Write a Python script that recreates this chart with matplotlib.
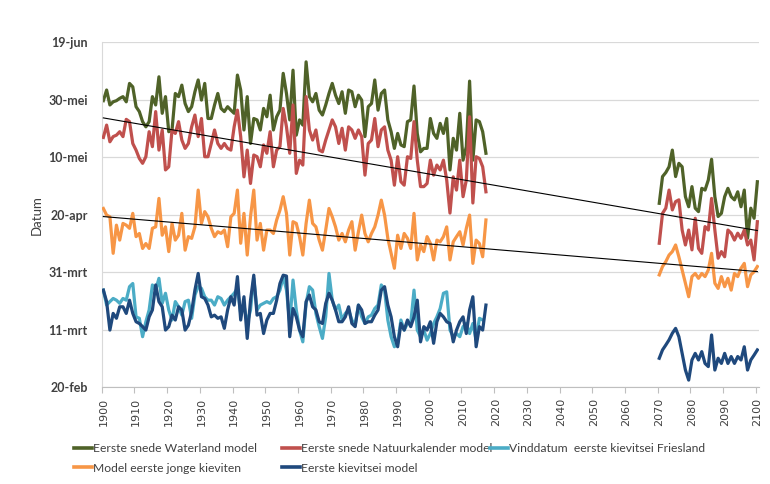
import numpy as np
import matplotlib
matplotlib.use("Agg")
import matplotlib.pyplot as plt
from matplotlib.lines import Line2D

plt.rcParams['font.family'] = ['Lato', 'DejaVu Sans']

# ---------------- data (day of year, leap-year calendar: 20-feb = 51) ----------------
hist_years = list(range(1900, 2018))
future_years = list(range(2070, 2101))

waterland_hist = [
    150.6, 154.3, 149.1, 150.2, 150.6, 151.4, 152.0, 150.2, 156.6, 155.4,
    148.5, 146.8, 143.3, 141.5, 143.3, 152.0, 149.1, 158.9, 146.2, 152.0,
    139.8, 140.4, 153.1, 152.0, 156.0, 149.6, 146.8, 148.5, 153.7, 157.8,
    150.8, 156.6, 144.4, 144.4, 149.1, 153.1, 147.9, 146.8, 148.5, 147.3,
    146.2, 159.5, 154.3, 140.4, 152.0, 135.7, 144.4, 143.9, 140.4, 147.9,
    145.0, 152.5, 140.4, 145.0, 147.3, 160.1, 153.1, 143.9, 161.2, 138.6,
    143.9, 142.1, 164.1, 152.0, 150.2, 153.1, 147.3, 145.6, 149.1, 153.1,
    156.6, 152.5, 149.6, 153.7, 146.2, 154.3, 153.7, 148.5, 152.5, 150.8,
    138.1, 148.5, 149.6, 157.8, 147.3, 153.1, 154.3, 143.9, 139.8, 134.0,
    139.2, 135.2, 134.6, 143.3, 143.9, 155.7, 139.2, 132.8, 134.0, 134.0,
    144.4, 139.2, 137.5, 142.7, 139.2, 144.4, 126.5, 137.5, 133.4, 146.2,
    129.9, 134.6, 157.4, 129.9, 143.9, 143.3, 139.8, 132.3]
waterland_future = [
    114.9, 124.2, 125.6, 127.6, 133.4, 124.2, 128.8, 127.6, 117.2, 113.7,
    120.7, 113.2, 112.0, 120.1, 119.5, 123.0, 130.2, 117.2, 110.3, 111.4,
    117.2, 120.1, 117.2, 116.1, 118.9, 113.7, 119.5, 102.7, 113.2, 109.7, 122.4]

natuur_hist = [
    137.8, 142.1, 136.3, 138.1, 138.6, 139.8, 138.1, 144.1, 143.3, 135.7,
    133.4, 130.5, 128.8, 131.1, 139.8, 134.6, 146.8, 133.4, 140.4, 126.5,
    127.6, 140.4, 139.2, 143.3, 136.9, 134.0, 135.7, 141.5, 145.6, 138.1,
    144.4, 131.1, 131.1, 135.7, 140.4, 135.7, 134.0, 135.7, 134.0, 133.4,
    141.5, 147.3, 138.1, 124.1, 133.4, 121.8, 131.7, 131.1, 127.6, 135.2,
    132.3, 139.8, 127.6, 133.4, 134.6, 147.9, 141.5, 132.3, 149.1, 125.3,
    129.9, 128.2, 152.0, 140.4, 136.9, 140.4, 133.4, 132.8, 136.9, 140.4,
    143.9, 141.5, 135.7, 141.0, 133.4, 141.5, 140.4, 137.5, 140.4, 138.1,
    124.7, 135.7, 136.9, 144.4, 134.6, 140.4, 141.5, 133.4, 129.9, 121.2,
    131.1, 122.4, 121.2, 131.1, 130.5, 143.3, 129.9, 120.7, 120.7, 121.8,
    129.9, 124.7, 128.2, 126.5, 129.9, 123.0, 111.5, 124.1, 119.5, 129.9,
    117.2, 123.0, 145.0, 115.0, 131.1, 130.5, 127.6, 118.9]
natuur_future = [
    101.0, 111.4, 113.2, 119.5, 112.6, 115.5, 116.1, 105.6, 100.4, 105.6,
    98.7, 109.7, 99.2, 97.5, 106.8, 105.6, 116.6, 105.6, 95.8, 98.1,
    96.3, 105.6, 104.5, 102.1, 104.5, 102.7, 105.6, 100.4, 102.1, 95.2, 108.5]

friesland_hist = [
    84.7, 79.5, 80.7, 81.8, 81.2, 80.1, 81.8, 81.2, 85.9, 87.0,
    75.4, 74.9, 68.5, 73.7, 77.8, 86.5, 84.7, 88.8, 80.1, 83.6,
    77.8, 74.3, 80.7, 78.9, 76.0, 80.7, 81.2, 74.9, 83.0, 85.9,
    85.3, 82.4, 81.2, 81.2, 79.5, 82.4, 81.8, 79.5, 81.2, 82.4,
    83.6, 85.3, 76.6, 79.5, 73.1, 77.8, 88.8, 77.8, 79.5, 80.1,
    80.7, 80.1, 81.8, 82.4, 84.7, 89.4, 84.7, 73.1, 88.2, 77.8,
    70.8, 66.7, 80.1, 85.9, 84.7, 76.6, 72.0, 67.9, 75.4, 90.5,
    81.2, 77.8, 79.5, 74.3, 76.6, 77.8, 74.3, 72.5, 79.5, 75.4,
    73.1, 75.4, 76.0, 78.3, 79.5, 86.5, 84.7, 74.3, 68.5, 65.0,
    66.2, 74.3, 70.8, 73.1, 73.1, 84.7, 70.8, 68.5, 70.8, 67.3,
    69.6, 73.1, 75.4, 78.3, 83.6, 84.1, 70.8, 68.5, 69.6, 68.5,
    72.0, 73.1, 69.6, 73.1, 67.3, 74.9, 74.3, np.nan]

jonge_hist = [
    113.1, 110.8, 110.2, 97.5, 107.3, 102.1, 107.9, 107.3, 106.2, 111.4,
    103.3, 104.4, 99.2, 100.9, 99.2, 106.2, 106.7, 116.6, 103.8, 106.7,
    98.1, 107.9, 102.1, 103.8, 111.4, 98.6, 103.3, 102.7, 106.7, 119.5,
    107.9, 112.0, 110.2, 106.2, 103.3, 105.0, 104.4, 105.6, 99.8, 110.2,
    111.4, 119.5, 101.0, 111.4, 96.9, 110.2, 119.5, 102.1, 107.9, 98.6,
    105.6, 105.6, 104.4, 109.1, 112.5, 117.2, 111.4, 96.9, 108.5, 107.9,
    103.3, 96.9, 107.9, 116.0, 107.9, 106.7, 102.1, 98.6, 105.6, 113.1,
    110.2, 106.7, 102.1, 104.4, 101.5, 105.6, 108.5, 98.6, 105.0, 110.8,
    104.4, 101.5, 104.4, 106.7, 110.8, 116.0, 110.8, 102.7, 97.5, 92.3,
    103.8, 99.2, 104.4, 102.7, 99.2, 111.4, 95.2, 100.4, 98.1, 103.3,
    101.0, 95.2, 102.1, 101.5, 103.3, 106.7, 95.2, 101.5, 103.3, 105.0,
    100.4, 106.2, 110.8, 94.0, 102.1, 100.9, 96.3, 109.1]
jonge_future = [
    90.0, 92.9, 94.6, 96.9, 98.1, 100.4, 96.3, 91.7, 87.1, 82.4,
    89.4, 90.5, 88.8, 90.5, 89.4, 91.7, 97.5, 87.1, 85.3, 89.4,
    85.9, 88.8, 84.7, 90.5, 89.4, 92.3, 94.0, 85.9, 90.0, 91.1, 92.9]

kievitsei_hist = [
    84.7, 80.7, 70.8, 76.6, 74.9, 78.9, 78.9, 76.6, 81.2, 76.6,
    73.7, 73.1, 72.0, 70.8, 75.4, 77.8, 86.5, 80.7, 78.9, 70.8,
    72.0, 76.0, 74.3, 78.9, 77.8, 70.8, 72.5, 77.2, 84.7, 90.5,
    82.4, 81.8, 79.5, 75.4, 76.0, 74.9, 75.4, 71.4, 77.8, 82.4,
    79.5, 89.4, 74.3, 82.4, 67.9, 81.2, 89.9, 76.0, 76.6, 69.6,
    74.3, 76.6, 76.6, 81.2, 87.0, 89.9, 89.6, 68.5, 78.3, 75.4,
    70.8, 68.5, 80.7, 83.0, 78.9, 77.8, 73.7, 73.1, 80.1, 83.6,
    81.2, 77.8, 73.7, 73.7, 75.4, 78.9, 73.1, 72.0, 79.5, 77.8,
    73.1, 73.7, 73.7, 76.0, 77.8, 84.7, 85.9, 79.5, 75.4, 68.5,
    65.0, 73.1, 70.8, 74.3, 72.0, 75.4, 81.2, 66.7, 72.0, 70.8,
    73.7, 66.2, 73.7, 76.6, 75.4, 73.7, 73.1, 66.7, 70.8, 73.7,
    75.4, 69.6, 77.8, 82.4, 65.0, 72.0, 70.8, 79.5]
kievitsei_future = [
    61.0, 63.9, 65.6, 67.4, 69.7, 71.4, 68.5, 62.7, 56.9, 53.4,
    60.4, 62.7, 60.4, 63.3, 59.2, 58.1, 69.1, 56.9, 61.0, 59.2,
    62.7, 59.2, 61.6, 59.2, 61.6, 60.4, 65.0, 56.9, 60.4, 62.1, 63.9]

series_names = ["Eerste snede Waterland model",
                "Eerste snede Natuurkalender model",
                "Vinddatum  eerste kievitsei Friesland",
                "Model eerste jonge kieviten",
                "Eerste kievitsei model"]
series_colors = ["#4F6228", "#C0504D", "#4BACC6", "#F79646", "#1F497D"]

ytick_values = [51, 71, 91, 111, 131, 151, 171]
ytick_labels = ["20-feb", "11-mrt", "31-mrt", "20-apr", "10-mei", "30-mei", "19-jun"]
xtick_years = list(range(1900, 2101, 10))

# ---------------- figure ----------------
fig = plt.figure(figsize=(7.7, 4.84), dpi=100)
ax = fig.add_axes([0.1321, 0.2004, 0.8536, 0.7128])

hx = np.array(hist_years) + 0.5
fx = np.array(future_years) + 0.5
lw = 2.3

pairs = [
    (waterland_hist, waterland_future),
    (natuur_hist, natuur_future),
    (friesland_hist, None),
    (jonge_hist, jonge_future),
    (kievitsei_hist, kievitsei_future),
]
for i, (h, f) in enumerate(pairs):
    ax.plot(hx, h, color=series_colors[i], lw=lw, solid_joinstyle='round', zorder=2 + i)
    if f is not None:
        ax.plot(fx, f, color=series_colors[i], lw=lw, solid_joinstyle='round', zorder=2 + i)

# linear trend lines (Excel-style) for Natuurkalender and jonge kieviten
for h, f in [(natuur_hist, natuur_future), (jonge_hist, jonge_future)]:
    xs = np.concatenate([hist_years, future_years]).astype(float)
    ys = np.concatenate([h, f]).astype(float)
    k, b = np.polyfit(xs, ys, 1)
    xt = np.array([1900, 2100], dtype=float)
    ax.plot(xt + 0.5, k * xt + b, color="black", lw=0.8, zorder=10)

ax.set_xlim(1900, 2101)
ax.set_ylim(51, 171)
ax.set_yticks(ytick_values)
ax.set_yticklabels(ytick_labels, fontsize=9, fontweight='bold', color="#404040")
ax.yaxis.grid(True, color="#D9D9D9", lw=0.9)
ax.set_axisbelow(True)
ax.tick_params(axis='y', length=0, pad=10)

ax.set_xticks(xtick_years)
ax.set_xticklabels([])
ax.tick_params(axis='x', which='major', length=4, color="#BFBFBF", direction='out')
ax.set_xticks([y + 0.5 for y in xtick_years], minor=True)
ax.set_xticklabels([str(y) for y in xtick_years], minor=True, rotation=90,
                   fontsize=8, color="#404040", family=['DejaVu Sans'])
ax.tick_params(axis='x', which='minor', length=0, pad=8)

for s in ["top", "right"]:
    ax.spines[s].set_visible(False)
ax.spines["left"].set_color("#D9D9D9")
ax.spines["bottom"].set_color("#BFBFBF")

fig.text(37 / 770, 1 - 215 / 484, "Datum", rotation=90, ha='center', va='center',
         fontsize=9.5, color="#404040")

# legend entries placed like the original
leg_pos = [(74, 449), (282, 449), (490, 449), (74, 468), (282, 468)]
for i, (px, py) in enumerate(leg_pos):
    h = Line2D([0], [0], color=series_colors[i], lw=2.6)
    fig.legend([h], [series_names[i]], loc='center left',
               bbox_to_anchor=(px / 770, 1 - py / 484), frameon=False,
               fontsize=8.7, handlelength=1.5, handletextpad=0.1,
               borderpad=0, borderaxespad=0, labelcolor="#404040")

fig.savefig("out.png", dpi=100)
